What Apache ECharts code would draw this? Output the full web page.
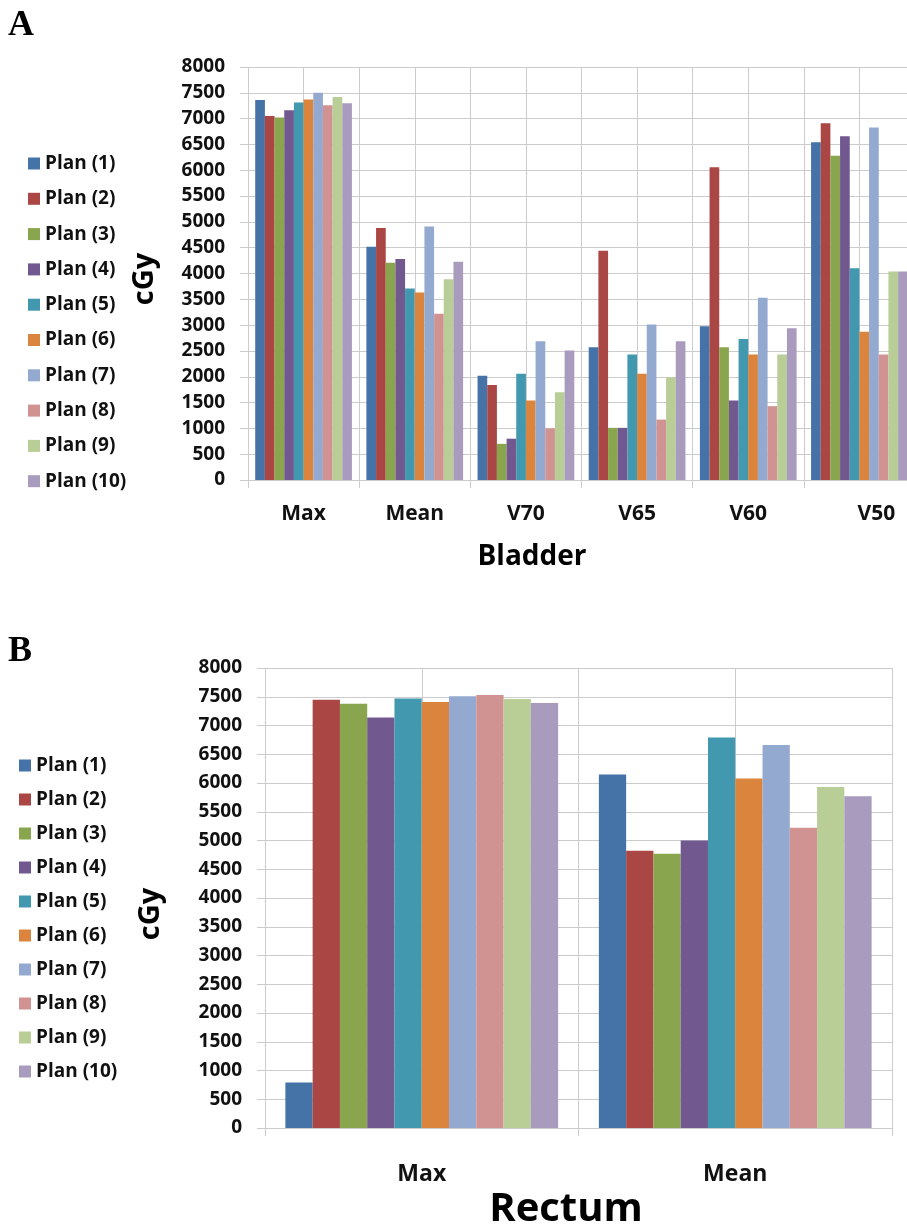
<!DOCTYPE html>
<html>
<head>
<meta charset="utf-8">
<script src="https://cdn.jsdelivr.net/npm/echarts@6/dist/echarts.min.js"></script>
<style>
  html, body { margin: 0; padding: 0; background: #ffffff; overflow: hidden; }
  #chart { width: 920px; height: 1226px; }
</style>
</head>
<body>
<div id="chart"></div>
<script>
// ---- Data ----
const planNames = ['Plan (1)', 'Plan (2)', 'Plan (3)', 'Plan (4)', 'Plan (5)', 'Plan (6)', 'Plan (7)', 'Plan (8)', 'Plan (9)', 'Plan (10)'];
const bladderCategories = ['Max', 'Mean', 'V70', 'V65', 'V60', 'V50'];
const rectumCategories = ['Max', 'Mean'];
const yTicks = [0, 500, 1000, 1500, 2000, 2500, 3000, 3500, 4000, 4500, 5000, 5500, 6000, 6500, 7000, 7500, 8000];

// Bladder values per plan: [Max, Mean, V70, V65, V60, V50]
const bladderPlan1  = [7360, 4520, 2020, 2570, 2980, 6540];
const bladderPlan2  = [7050, 4880, 1840, 4440, 6060, 6910];
const bladderPlan3  = [7020, 4210, 700, 1010, 2570, 6280];
const bladderPlan4  = [7160, 4280, 800, 1010, 1540, 6660];
const bladderPlan5  = [7310, 3710, 2060, 2430, 2730, 4100];
const bladderPlan6  = [7370, 3630, 1540, 2060, 2430, 2870];
const bladderPlan7  = [7500, 4910, 2690, 3010, 3530, 6830];
const bladderPlan8  = [7260, 3220, 1000, 1170, 1430, 2430];
const bladderPlan9  = [7420, 3890, 1700, 1990, 2430, 4040];
const bladderPlan10 = [7300, 4230, 2510, 2690, 2940, 4040];

// Rectum values per plan: [Max, Mean]
const rectumPlan1  = [790, 6150];
const rectumPlan2  = [7450, 4820];
const rectumPlan3  = [7380, 4770];
const rectumPlan4  = [7140, 5000];
const rectumPlan5  = [7470, 6790];
const rectumPlan6  = [7410, 6080];
const rectumPlan7  = [7510, 6660];
const rectumPlan8  = [7530, 5220];
const rectumPlan9  = [7460, 5930];
const rectumPlan10 = [7390, 5770];

const bladderData = [bladderPlan1, bladderPlan2, bladderPlan3, bladderPlan4, bladderPlan5, bladderPlan6, bladderPlan7, bladderPlan8, bladderPlan9, bladderPlan10];
const rectumData = [rectumPlan1, rectumPlan2, rectumPlan3, rectumPlan4, rectumPlan5, rectumPlan6, rectumPlan7, rectumPlan8, rectumPlan9, rectumPlan10];

const colors = ['#4572A7', '#AA4643', '#89A54E', '#71588F', '#4198AF', '#DB843D', '#93A9CF', '#D19392', '#B9CD96', '#A99BBD'];

// ---- Chart ----
const FONT = '"Open Sans", "Noto Sans", sans-serif';
const GRID_COLOR = '#cccccc';
const chart = echarts.init(document.getElementById('chart'), null, { renderer: 'canvas' });

function yAxisCfg(gridIndex, margin) {
  return {
    type: 'value', gridIndex: gridIndex, min: 0, max: 8000, interval: 500,
    axisLine: { show: false },
    axisTick: { show: true, length: 8, lineStyle: { color: GRID_COLOR } },
    splitLine: { show: true, lineStyle: { color: GRID_COLOR, width: 1 } },
    axisLabel: { margin: margin, color: '#111', fontFamily: FONT, fontWeight: 'bold', fontSize: 19,
      formatter: function (v) { return yTicks.indexOf(v) >= 0 ? String(v) : ''; } }
  };
}

const series = [];
planNames.forEach(function (name, i) {
  series.push({ name: name, type: 'bar', xAxisIndex: 0, yAxisIndex: 0, data: bladderData[i],
    barGap: '0%', barCategoryGap: '13%', itemStyle: { color: colors[i] } });
});
planNames.forEach(function (name, i) {
  series.push({ name: name, type: 'bar', xAxisIndex: 2, yAxisIndex: 1, data: rectumData[i],
    barGap: '0%', barCategoryGap: '13%', itemStyle: { color: colors[i] } });
});

const legendBase = {
  orient: 'vertical', data: planNames, icon: 'rect', itemWidth: 12, itemHeight: 12,
  selectedMode: false,
  textStyle: { fontFamily: FONT, fontWeight: 'bold', fontSize: 19, color: '#111', lineHeight: 19 }
};

const catLabelA = { color: '#111', fontFamily: FONT, fontWeight: 'bold', fontSize: 21 };

const option = {
  animation: false,
  backgroundColor: '#ffffff',
  color: colors,
  grid: [
    { left: 248, top: 67, width: 667, height: 413, containLabel: false },
    { left: 265, top: 668, width: 627, height: 460, containLabel: false }
  ],
  legend: [
    Object.assign({}, legendBase, { left: 23, top: 149, itemGap: 16.3 }),
    Object.assign({}, legendBase, { left: 14, top: 751, itemGap: 15 })
  ],
  xAxis: [
    { type: 'category', gridIndex: 0, data: bladderCategories, boundaryGap: true,
      axisLine: { show: true, lineStyle: { color: GRID_COLOR } },
      axisTick: { show: true, length: 8, lineStyle: { color: GRID_COLOR } },
      splitLine: { show: false },
      axisLabel: Object.assign({ margin: 24,
        formatter: function (v) { return v === 'V50' ? '{s|' + v + '}' : v; },
        rich: { s: Object.assign({ padding: [0, 0, 0, 34] }, catLabelA) } }, catLabelA) },
    { type: 'value', gridIndex: 0, min: 0, max: 12, interval: 1, position: 'top',
      axisLine: { show: false }, axisTick: { show: false }, axisLabel: { show: false },
      splitLine: { show: true, lineStyle: { color: GRID_COLOR, width: 1 } } },
    { type: 'category', gridIndex: 1, data: rectumCategories, boundaryGap: true,
      axisLine: { show: true, lineStyle: { color: GRID_COLOR } },
      axisTick: { show: true, length: 8, lineStyle: { color: GRID_COLOR } },
      splitLine: { show: false },
      axisLabel: { margin: 35, color: '#111', fontFamily: FONT, fontWeight: 'bold', fontSize: 23 } },
    { type: 'value', gridIndex: 1, min: 0, max: 4, interval: 1, position: 'top',
      axisLine: { show: false }, axisTick: { show: false }, axisLabel: { show: false },
      splitLine: { show: true, lineStyle: { color: GRID_COLOR, width: 1 } } }
  ],
  yAxis: [ yAxisCfg(0, 23), yAxisCfg(1, 23) ],
  series: series,
  graphic: [
    { type: 'text', left: 8, top: 8, style: { text: 'A', font: 'bold 36px "Liberation Serif", "DejaVu Serif", serif', fill: '#000' } },
    { type: 'text', left: 8, top: 634, style: { text: 'B', font: 'bold 36px "Liberation Serif", "DejaVu Serif", serif', fill: '#000' } },
    { type: 'text', x: 145, y: 279, rotation: Math.PI / 2,
      style: { text: 'cGy', font: 'bold 29px ' + FONT, fill: '#000', textAlign: 'center', textVerticalAlign: 'middle' } },
    { type: 'text', x: 151, y: 914, rotation: Math.PI / 2,
      style: { text: 'cGy', font: 'bold 29px ' + FONT, fill: '#000', textAlign: 'center', textVerticalAlign: 'middle' } },
    { type: 'text', x: 532, y: 557,
      style: { text: 'Bladder', font: 'bold 28px ' + FONT, fill: '#000', textAlign: 'center', textVerticalAlign: 'middle' } },
    { type: 'text', x: 566, y: 1210,
      style: { text: 'Rectum', font: 'bold 40px ' + FONT, fill: '#000', textAlign: 'center', textVerticalAlign: 'middle' } }
  ]
};
chart.setOption(option);
</script>
</body>
</html>
